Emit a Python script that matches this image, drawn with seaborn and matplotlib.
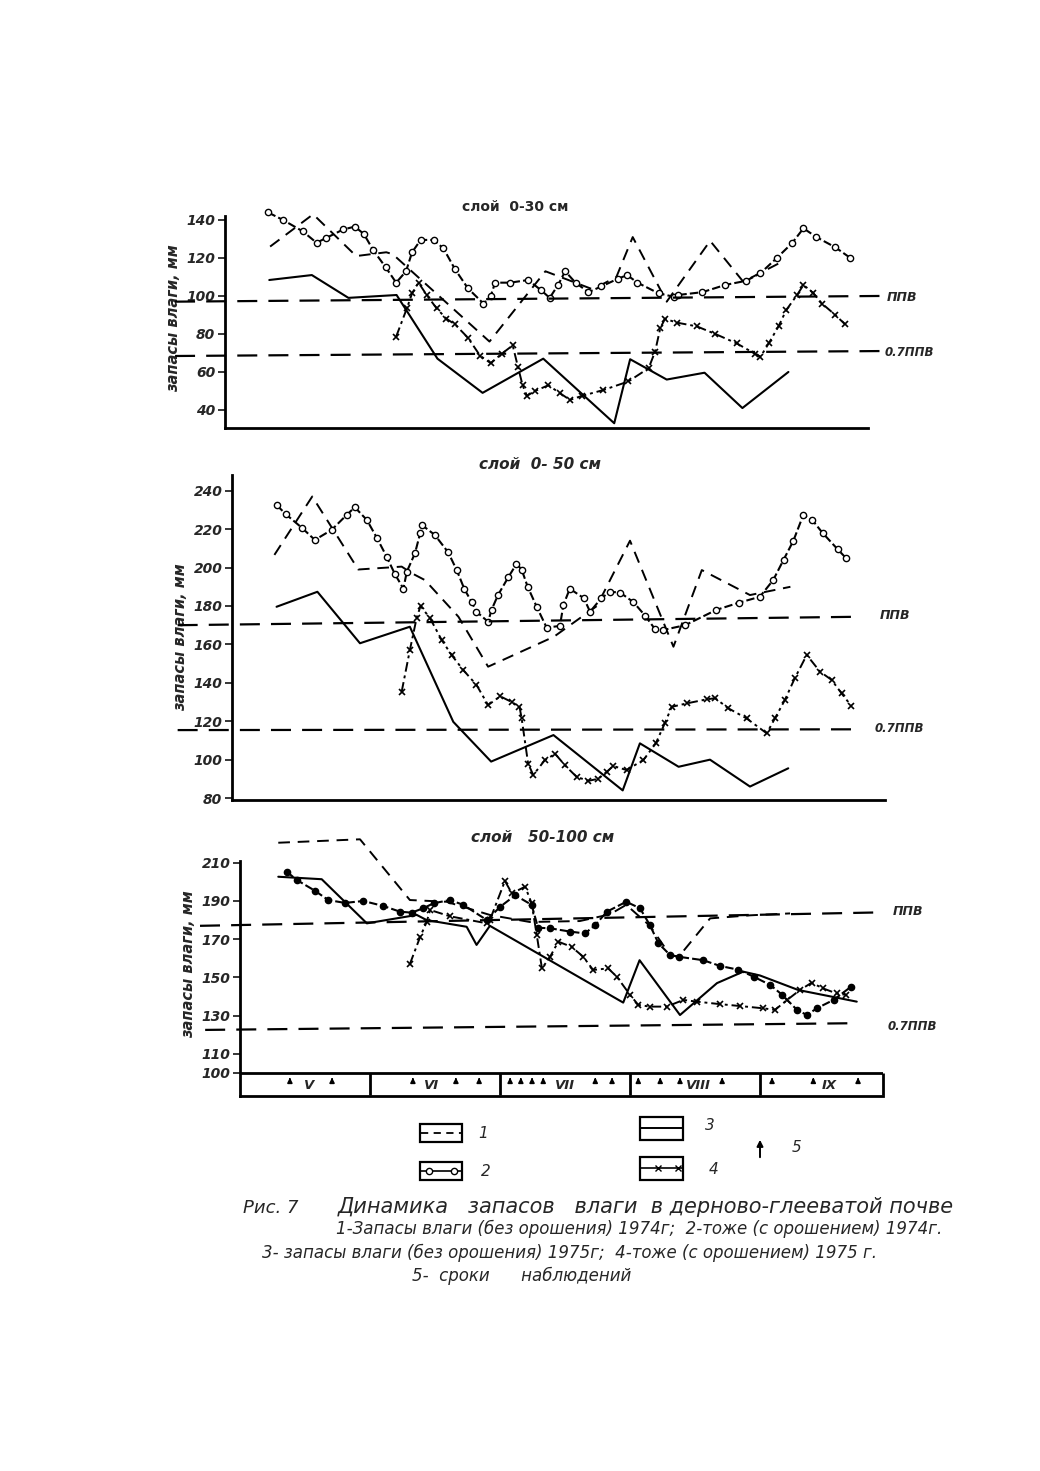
import matplotlib
matplotlib.use("Agg")
import matplotlib.pyplot as plt
import seaborn as sns
from matplotlib.patches import Rectangle

# days are counted from 1 May, moisture stock in mm

# ---- layer 0-30 cm ----
top1_day = [7, 17, 27, 34, 35.5, 58, 71, 82, 87.5, 91.3, 99.2, 109.3, 117, 126]
top1_mm = [126, 143, 121, 123, 122, 76, 113, 103.5, 110, 131, 97, 129, 107.5, 118]

top2_day = [6.5, 10, 14.6, 17.8, 20, 24, 26.7, 28.8, 31, 33.9, 36.3, 38.6, 40, 42, 45, 47.3,
            50, 53, 56.6, 58.3, 59.3, 62.8, 67, 70, 72, 74, 75.6, 78, 81, 84, 87.8, 90, 92.4,
            97.3, 100.8, 101.8, 107.5, 112.8, 117.7, 121, 124.8, 128.3, 131, 134, 138.4, 141.9]
top2_mm = [144, 140, 134, 128, 130.5, 135, 136.5, 132.6, 124, 115, 107, 113, 123, 129.5, 129.5, 125,
           114, 104, 96, 100, 107, 107, 108.4, 103, 99, 106, 113, 107, 102, 105, 109, 111, 107,
           101.4, 99.6, 100.5, 102, 105.8, 108, 112, 120, 127.7, 135.6, 131, 125.6, 120]

top3_day = [6.8, 16.7, 25.2, 36.4, 45.9, 56.4, 70.5, 87, 90.7, 99.2, 108, 116.8, 127.5]
top3_mm = [108.4, 111, 99, 100.5, 67, 49, 67, 33, 66.7, 56, 59.6, 41, 60]

top4_day = [36.3, 38.8, 40, 41.5, 43.4, 45.7, 48, 50, 53, 55.8, 58.3, 60.8, 63.4, 64.6, 65.7, 66.7,
            68.6, 71.7, 74.4, 76.7, 79.5, 84.5, 90.3, 95, 96.5, 97.7, 98.8, 101.5, 106.2, 110.5,
            115.5, 119.8, 121, 122.9, 125.2, 127, 129.5, 131, 133.2, 135.3, 138.4, 140.7]
top4_mm = [78.6, 93.5, 101.4, 107, 100.5, 93.5, 88, 85, 78, 68.6, 64.6, 69.5, 74, 62.8, 53, 47.4,
           50, 53, 48.8, 45.3, 47.4, 50.5, 55, 62, 70.7, 83, 88, 86, 84, 80,
           75, 69.5, 68, 75, 84, 92.6, 100.5, 105.8, 101.7, 96, 90, 85]

top_ppv_day = [-15.1, 148.8]
top_ppv = [97, 100]
top_ppv07 = [68.4, 71]

# ---- layer 0-50 cm ----
mid1_day = [8, 16.8, 27.5, 37.6, 40, 43, 50.8, 57.7, 73, 78, 83, 90.7, 100.8, 107.4, 118.6, 128]
mid1_mm = [206.6, 237, 199, 200.5, 197, 193.5, 174.4, 148.4, 164, 172, 180, 214, 158.8, 198.7, 185.7, 190]

mid2_day = [8.5, 10.7, 14.5, 17.4, 21.3, 24.8, 26.7, 29.5, 31.8, 34.1, 36, 38, 38.8, 40.7, 41.9,
            42.4, 45.3, 48.4, 50.4, 52.2, 53.9, 55, 57.7, 58.5, 60, 62.4, 64.3, 65.5, 66.9, 69,
            71.3, 74.4, 75.2, 76.7, 80, 81.4, 84, 86, 88.4, 91.5, 94.2, 96.5, 98.4, 103.5, 110.8,
            116, 120.9, 124, 126.4, 128.7, 131, 133, 135.5, 139, 141]
mid2_mm = [232.6, 227.7, 220.5, 214.4, 219.6, 227.4, 231.4, 224.8, 215.6, 205.7, 196.7, 189, 197.9,
           207.5, 217.9, 222, 217, 208, 198.7, 188.7, 182, 177, 171.8, 178, 185.7, 195, 201.9, 199,
           190, 179.6, 168.8, 169.6, 180.5, 189, 184, 177, 184, 187.4, 187, 182, 175, 168, 167.5,
           170, 178, 181.7, 184.8, 193.5, 204, 214, 227.4, 225, 218, 209.5, 204.8]

mid3_day = [8.5, 18, 27.9, 39.5, 49.6, 58.4, 72.9, 89, 93, 102, 109.3, 118.6, 127.5]
mid3_mm = [179.6, 187.4, 160.6, 169.2, 119.7, 99, 112.8, 84, 108.5, 96.3, 100, 86, 95.5]

mid4_day = [37.6, 39.5, 41.1, 42, 44.2, 46.9, 49.2, 51.9, 55, 57.7, 60.5, 63.2, 65, 65.5, 67, 68.2,
            70.9, 73.3, 75.6, 78.3, 81, 83.3, 85.3, 86.8, 89.9, 93.8, 96.7, 98.8, 100.4, 103.9,
            108.5, 110.5, 113.6, 117.8, 122.5, 124.4, 126.7, 129, 131.8, 134.9, 137.6, 139.9, 142.2]
mid4_mm = [135.4, 157, 174, 180, 173.6, 162.3, 154.5, 146.7, 138.9, 128.4, 133, 130, 127.5, 121.5,
           98, 92, 99.8, 103, 97, 91, 89, 90, 93.7, 96.7, 94.6, 99.8, 108.5, 119, 127.5, 129.3,
           131.4, 132, 126.7, 121.5, 113.7, 121.5, 131, 142.3, 154.5, 145.8, 141.5, 134.5, 127.9]

mid_ppv_day = [-14.5, 144]
mid_ppv = [170, 174.4]
mid_ppv07 = [115.4, 115.8]

# ---- layer 50-100 cm ----
bot1_day = [8.9, 27.9, 39.5, 48, 58.1, 67.4, 79, 86, 89.8, 95.3, 100, 102, 109.3, 118.6, 127.9]
bot1_mm = [220.5, 222.3, 190.5, 189.6, 182.7, 179, 179.5, 183, 188, 177, 161.7, 160.8, 180.9, 182.5, 183.5]

bot2_day = [10.9, 13.2, 17.4, 20.5, 24.4, 28.7, 33.3, 37.2, 39.9, 42.6, 45, 48.8, 51.9, 57.4, 60.5,
            64, 67.8, 69.3, 72.1, 76.7, 80.2, 82.6, 85.3, 89.8, 93, 95.3, 97.3, 100, 102, 107.7,
            111.6, 115.9, 119.4, 123.3, 126, 129.5, 131.8, 134.1, 138, 142]
bot2_mm = [205.3, 201, 195.4, 190.5, 189, 190, 187.4, 184.4, 183.9, 186.2, 188.8, 190.5, 188, 180, 187,
           193, 188, 176, 175.7, 174, 173, 177.4, 184.4, 189.6, 186.2, 177.4, 167.8, 161.7, 160.8, 159,
           156, 154, 150.4, 146, 141, 133, 130.3, 133.8, 138.2, 145]

bot3_day = [8.9, 19, 29.5, 41.1, 43.4, 52.7, 55, 58.1, 89.1, 92.9, 102.3, 110.9, 117, 120.9, 129.8, 143.4]
bot3_mm = [202.7, 201.4, 178.3, 182.7, 180, 176.5, 167, 177, 136.8, 159, 130.3, 147, 153, 151, 143.4, 137.3]

bot4_day = [39.5, 41.9, 43.4, 44.2, 48.8, 57.4, 58.1, 61.6, 63.2, 66.3, 67.8, 69, 70.2, 72.1, 74,
            77.1, 79.8, 82.1, 85.6, 87.6, 90.7, 92.6, 95.3, 99.2, 103.1, 106.2, 111.6, 116.3, 121.7,
            124.4, 127.1, 130.2, 132.9, 135.6, 138.7, 141]
bot4_mm = [157, 171.3, 179, 185.3, 182, 178.3, 180, 200.5, 194, 197.5, 188.8, 172.2, 154.7, 160.8, 168.7,
           166, 160.8, 153.9, 154.7, 150.4, 140.8, 135.6, 134.7, 134.7, 138.2, 137.3, 136, 135, 133.8,
           133, 138, 143.4, 147.2, 144.2, 141.6, 140.8]

bot_ppv_day = [-9.3, 148.1]
bot_ppv = [177, 184]
bot_ppv07_day = [-8.1, 142.6]
bot_ppv07 = [122.5, 126]

months = ['V', 'VI', 'VII', 'VIII', 'IX']
month_edges = [0, 30.2, 60.5, 90.7, 121, 149.5]
month_label_day = [16, 44.5, 75.5, 106.5, 137]
obs_days = [11.6, 21.4, 40.2, 50.2, 55.6, 62.8, 65.3, 67.9, 70.5, 82.6, 86.5,
            92.6, 97.7, 102.3, 112.1, 123.7, 133.3, 143.7]

sns.set_style("white")
plt.rcParams['font.family'] = ['DejaVu Sans']

W, H = 1040, 1471
fig = plt.figure(figsize=(W / 100, H / 100), dpi=100)


def px_axes(x0, y0, x1, y1):
    return fig.add_axes([x0 / W, 1 - y1 / H, (x1 - x0) / W, (y1 - y0) / H])


def style(n, filled=False):
    if n == 1:
        return dict(linestyle=(0, (6, 4)), lw=1.4)
    if n == 2:
        return dict(linestyle=(0, (4, 1.5)), lw=1.5, marker='o', ms=4.5,
                    mfc='k' if filled else 'white', mec='k', mew=1.0)
    if n == 3:
        return dict(linestyle='-', lw=1.5)
    return dict(linestyle=(0, (5, 2, 1.5, 2)), lw=1.4, marker='x', ms=4, mec='k', mew=1.2)


def txt(ax_or_fig, *a, **k):
    k.setdefault('fontstyle', 'italic')
    k.setdefault('fontweight', 'bold')
    return ax_or_fig.text(*a, **k)


def panel(ax, series, xlim, ylim, yticks, spine_top, ppv_day, ppv, ppv07_day, ppv07,
          lab_ppv, lab_07, filled=False):
    for n, (d, v) in enumerate(series, start=1):
        sns.lineplot(x=d, y=v, ax=ax, sort=False, estimator=None, color='k',
                     clip_on=False, **style(n, filled))
    ax.plot(ppv_day, ppv, color='k', lw=1.6, ls=(0, (9, 5)), clip_on=False)
    ax.plot(ppv07_day, ppv07, color='k', lw=1.6, ls=(0, (9, 5)), clip_on=False)
    txt(ax, lab_ppv[0], lab_ppv[1], 'ППВ', fontsize=9, va='center', clip_on=False)
    txt(ax, lab_07[0], lab_07[1], '0.7ППВ', fontsize=8.5, va='center', clip_on=False)
    ax.set_xlim(*xlim)
    ax.set_ylim(*ylim)
    ax.set_xticks([])
    ax.set_yticks(yticks)
    ax.set_yticklabels([str(t) for t in yticks])
    for lab in ax.get_yticklabels():
        lab.set_fontstyle('italic')
        lab.set_fontweight('bold')
        lab.set_fontsize(10)
    ax.tick_params(axis='y', left=True, length=5, width=1.3, pad=2, direction='out')
    for s in ['top', 'right']:
        ax.spines[s].set_visible(False)
    for s in ['left', 'bottom']:
        ax.spines[s].set_linewidth(2)
        ax.spines[s].set_color('k')
    ax.spines['left'].set_bounds(ylim[0], spine_top)
    ax.set_ylabel('запасы влаги, мм', fontsize=10.5, fontstyle='italic',
                  fontweight='bold', labelpad=4)
    ax.patch.set_alpha(0)


ax1 = px_axes(225, 208, 868, 428)
panel(ax1, [(top1_day, top1_mm), (top2_day, top2_mm), (top3_day, top3_mm), (top4_day, top4_mm)],
      (-3.49, 146.0), (30.5, 146.3), [40, 60, 80, 100, 120, 140], 142,
      top_ppv_day, top_ppv, top_ppv_day, top_ppv07, (150.3, 99), (149.8, 70))

ax2 = px_axes(232, 475, 885, 800)
panel(ax2, [(mid1_day, mid1_mm), (mid2_day, mid2_mm), (mid3_day, mid3_mm), (mid4_day, mid4_mm)],
      (-1.86, 150.0), (79.0, 248.2), [80, 100, 120, 140, 160, 180, 200, 220, 240], 248,
      mid_ppv_day, mid_ppv, mid_ppv_day, mid_ppv07, (148.8, 175), (147.5, 116))

ax3 = px_axes(240, 833, 883, 1096)
panel(ax3, [(bot1_day, bot1_mm), (bot2_day, bot2_mm), (bot3_day, bot3_mm), (bot4_day, bot4_mm)],
      (0, 149.5), (87.9, 225.6), [100, 110, 130, 150, 170, 190, 210], 211,
      bot_ppv_day, bot_ppv, bot_ppv07_day, bot_ppv07, (151.8, 184.5), (150.5, 124.5), filled=True)

# month strip with observation dates
box_lo, box_hi = 88.2, 100
ax3.plot([month_edges[0], month_edges[-1]], [box_hi, box_hi], color='k', lw=2)
ax3.vlines(month_edges[1:], box_lo, box_hi, color='k', lw=2, clip_on=False)
for m, d in zip(months, month_label_day):
    txt(ax3, d, 93.3, m, fontsize=9.5, ha='center', va='center')
for d in obs_days:
    ax3.annotate('', xy=(d, 99.0), xytext=(d, 94.5),
                 arrowprops=dict(arrowstyle='-|>', color='k', lw=1.2, mutation_scale=7))

# layer titles
fig.text(515 / W, 1 - 207 / H, 'слой  0-30 см', fontsize=10, fontweight='bold',
         ha='center', va='center')
fig.text(540 / W, 1 - 465 / H, 'слой  0- 50 см', fontsize=11, fontweight='bold',
         fontstyle='italic', ha='center', va='center')
fig.text(543 / W, 1 - 838 / H, 'слой   50-100 см', fontsize=11, fontweight='bold',
         fontstyle='italic', ha='center', va='center')

# legend drawn in pixel space
ov = fig.add_axes([0, 0, 1, 1])
ov.set_xlim(0, W)
ov.set_ylim(H, 0)
ov.axis('off')
for (x0, y0, x1, y1) in [(420, 1124, 462, 1142), (420, 1162, 462, 1180),
                         (640, 1117, 683, 1140), (640, 1157, 683, 1180)]:
    ov.add_patch(Rectangle((x0, y0), x1 - x0, y1 - y0, fill=False, ec='k', lw=1.6))
ov.plot([421, 461], [1133, 1133], color='k', lw=1.3, ls=(0, (4, 3)))
ov.plot([421, 429, 454, 461], [1171, 1171, 1171, 1171], color='k', lw=1.2, marker='o',
        ms=4.5, mfc='white', markevery=[1, 2])
ov.plot([641, 682], [1128, 1128], color='k', lw=1.4)
ov.plot([641, 658, 678, 682], [1168, 1168, 1168, 1168], color='k', lw=1.2, marker='x',
        ms=4, markevery=[1, 2])
ov.annotate('', xy=(760, 1137), xytext=(760, 1160),
            arrowprops=dict(arrowstyle='-|>', color='k', lw=1.4, mutation_scale=9))
for x, y, s in [(478, 1133, '1'), (481, 1172, '2'), (705, 1126, '3'), (709, 1170, '4'),
                (792, 1148, '5')]:
    ov.text(x, y, s, fontsize=11, fontstyle='italic', va='center')

# caption
fig.text(243 / W, 1 - 1208 / H, 'Рис. 7', fontsize=13, fontstyle='italic', va='center')
fig.text(338 / W, 1 - 1207 / H, 'Динамика   запасов   влаги  в дерново-глееватой почве',
         fontsize=15, fontstyle='italic', va='center')
fig.text(336 / W, 1 - 1229 / H,
         '1-Запасы влаги (без орошения) 1974г;  2-тоже (с орошением) 1974г.',
         fontsize=12, fontstyle='italic', va='center')
fig.text(262 / W, 1 - 1253 / H,
         '3- запасы влаги (без орошения) 1975г;  4-тоже (с орошением) 1975 г.',
         fontsize=12, fontstyle='italic', va='center')
fig.text(412 / W, 1 - 1276 / H, '5-  сроки      наблюдений', fontsize=12,
         fontstyle='italic', va='center')

fig.savefig('out.png', dpi=100, facecolor='white')
